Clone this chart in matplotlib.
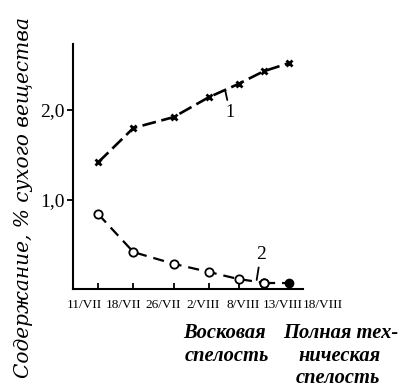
import numpy as np
import matplotlib
matplotlib.use("Agg")
from matplotlib import pyplot as plt

# days counted from 11/VII
days = [0, 7, 15, 22, 28, 33, 38]
dates = ["11/VII", "18/VII", "26/VII", "2/VIII", "8/VIII", "13/VIII", "18/VIII"]
curve1 = [1.42, 1.80, 1.92, 2.14, 2.29, 2.43, 2.52]
curve2 = [0.84, 0.42, 0.29, 0.20, 0.12, 0.08, 0.08]

plt.rcParams["lines.scale_dashes"] = False
W, H = 402, 389

fig = plt.figure(figsize=(W / 100, H / 100), dpi=100)
ax = fig.add_axes([73 / W, 1 - 289 / H, 230 / W, 245 / H])

ax.plot(days, curve1, color="black", lw=1.9, dashes=[10, 4],
        marker="x", ms=5, mew=2, mec="black")
ax.plot(days[:-1], curve2[:-1], color="black", lw=1.6, dashes=[8, 5],
        marker="o", ms=6, mfc="white", mec="black", mew=1.3)
ax.plot(days[-2:], curve2[-2:], color="black", lw=1.6, dashes=[8, 5])
ax.plot(days[-1:], curve2[-1:], "o", color="black", ms=6)
# redraw open marker on top of the connecting dash
ax.plot(days[-2:-1], curve2[-2:-1], "o", ms=6, mfc="white", mec="black", mew=1.3)

ax.set_xlim(-5.07, 40.85)
ax.set_ylim(0.01, 2.733)

for s in ["top", "right"]:
    ax.spines[s].set_visible(False)
for s in ["left", "bottom"]:
    ax.spines[s].set_linewidth(1.5)

ax.set_yticks([1.0, 2.0])
ax.set_yticklabels(["1,0", "2,0"], fontfamily="Liberation Serif", fontsize=14)
ax.tick_params(axis="y", direction="out", length=4, width=1.3, pad=2)
ax.set_xticks(days)
ax.set_xticklabels([])
ax.tick_params(axis="x", direction="in", length=4.5, width=1.3)

# date labels sit in an evenly spaced row under the axis
for xf, lab in zip(np.linspace((84 - 73) / 230, (323 - 73) / 230, len(dates)), dates):
    ax.text(xf, -16 / 245, lab, transform=ax.transAxes, ha="center", va="center",
            fontfamily="Liberation Serif", fontsize=9.5, clip_on=False)

ax.annotate("1", xy=(25.3, 2.22), xytext=(26.3, 1.97), ha="center", va="center",
            fontfamily="Liberation Serif", fontsize=13,
            arrowprops=dict(arrowstyle="-", lw=1.3, shrinkA=1, shrinkB=0))
ax.annotate("2", xy=(31.6, 0.11), xytext=(32.4, 0.39), ha="center", va="center",
            fontfamily="Liberation Serif", fontsize=14,
            arrowprops=dict(arrowstyle="-", lw=1.3, shrinkA=1, shrinkB=0))

fig.text(24 / W, 1 - 197 / H, "Содержание, % сухого вещества", rotation=90,
         ha="center", va="center", fontfamily="DejaVu Serif", style="italic",
         fontsize=14.5)

bot = dict(fontfamily="Liberation Serif", style="italic", fontweight="bold",
           fontsize=14.8, va="baseline", ha="left")
fig.text(183 / W, 1 - 338 / H, "Восковая", **bot)
fig.text(283 / W, 1 - 338 / H, "Полная тех-", **bot)
fig.text(185 / W, 1 - 361 / H, "спелость", **bot)
fig.text(298 / W, 1 - 361 / H, "ническая", **bot)
fig.text(296 / W, 1 - 383 / H, "спелость", **bot)

fig.savefig("out.png", dpi=100)
